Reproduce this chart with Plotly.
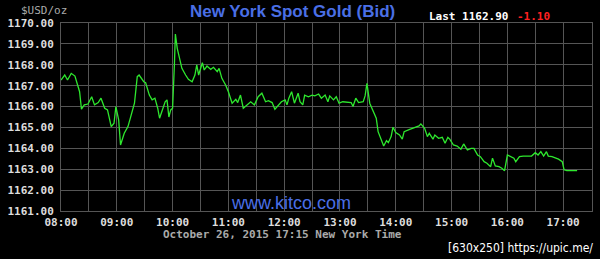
import plotly.graph_objects as go

minutes = [0, 4, 7, 11, 15, 17, 20, 22, 25, 29, 33, 36, 40, 43, 47, 50, 54, 57, 59, 62,
           64, 68, 72, 75, 79, 82, 84, 89, 91, 95, 98, 101, 104, 106, 109, 112, 114, 116, 118, 120,
           122, 123, 125, 128, 130, 134, 137, 141, 144, 146, 148, 152, 154, 157, 161, 164, 168, 170, 173, 177,
           180, 184, 188, 190, 193, 196, 200, 204, 208, 212, 216, 220, 223, 227, 230, 234, 237, 241, 243, 245,
           248, 251, 255, 257, 260, 262, 266, 270, 273, 277, 280, 284, 287, 289, 293, 296, 299, 303, 309, 312,
           314, 317, 320, 325, 327, 329, 332, 335, 339, 341, 344, 347, 350, 352, 355, 357, 360, 364, 367, 369,
           375, 380, 385, 387, 391, 394, 396, 400, 402, 406, 410, 413, 416, 418, 422, 426, 430, 433, 437, 441,
           444, 448, 451, 455, 458, 462, 464, 467, 471, 474, 477, 480, 483, 487, 489, 493, 497, 503, 506, 510,
           513, 516, 519, 522, 524, 528, 532, 535, 539, 541, 544, 549, 555]
prices = [1167.27, 1167.51, 1167.27, 1167.59, 1167.46, 1167.11, 1166.71, 1165.87, 1166.08, 1166.12,
          1166.47, 1166.08, 1166.19, 1166.40, 1165.92, 1165.84, 1165.04, 1165.20, 1166.00, 1165.36,
          1164.16, 1164.72, 1165.04, 1165.52, 1166.16, 1167.43, 1167.51, 1167.19, 1167.14, 1166.55,
          1166.32, 1166.40, 1165.92, 1165.44, 1165.84, 1166.23, 1166.32, 1165.50, 1165.84, 1165.92,
          1168.07, 1169.47, 1168.79, 1168.23, 1167.83, 1167.51, 1167.30, 1167.19, 1167.51, 1167.99,
          1167.51, 1168.10, 1167.75, 1167.94, 1167.78, 1167.88, 1167.67, 1167.83, 1167.35, 1167.03,
          1166.71, 1166.16, 1166.35, 1166.19, 1166.55, 1165.92, 1166.08, 1166.23, 1166.08, 1166.47,
          1166.64, 1166.23, 1166.28, 1166.19, 1165.87, 1166.08, 1166.23, 1166.32, 1166.08, 1166.40,
          1166.71, 1166.16, 1166.64, 1166.23, 1166.08, 1166.55, 1166.47, 1166.55, 1166.51, 1166.60,
          1166.40, 1166.55, 1166.23, 1166.51, 1166.32, 1166.47, 1166.16, 1166.23, 1166.20, 1166.19,
          1166.00, 1166.40, 1166.19, 1166.23, 1166.51, 1167.11, 1166.16, 1165.84, 1165.44, 1164.80,
          1164.48, 1164.11, 1164.37, 1164.27, 1164.56, 1165.01, 1164.76, 1164.64, 1164.44, 1164.80,
          1164.91, 1165.01, 1165.07, 1165.17, 1164.96, 1164.56, 1164.72, 1164.44, 1164.64, 1164.48,
          1164.53, 1164.24, 1164.53, 1164.44, 1164.16, 1164.11, 1163.96, 1164.21, 1163.92, 1164.00,
          1164.00, 1163.68, 1163.60, 1163.36, 1163.29, 1163.12, 1163.53, 1163.16, 1163.12, 1163.05,
          1162.93, 1163.68, 1163.60, 1163.53, 1163.36, 1163.60, 1163.63, 1163.63, 1163.63, 1163.79,
          1163.68, 1163.84, 1163.63, 1163.84, 1163.63, 1163.60, 1163.53, 1163.48, 1163.36, 1162.97,
          1162.93, 1162.93, 1162.93]

times = ["2015-10-26 %02d:%02d" % (8 + m // 60, m % 60) for m in minutes]

title_text = "New York Spot Gold (Bid)"
unit_text = "$USD/oz"
last_label = "Last 1162.90"
change_label = "-1.10"
site_text = "www.kitco.com"
date_text = "October 26, 2015 17:15 New York Time"
watermark = "[630x250] https://upic.me/"

W, H = 600, 259
ML, MR, MT, MB = 58, 7, 23, 48
grid = "#555555"
mono = "DejaVu Sans Mono"

fig = go.Figure()
fig.add_trace(go.Scatter(x=times, y=prices, mode="lines",
                         line=dict(color="#2ee82e", width=1.3), hoverinfo="skip"))

fig.update_layout(
    width=W, height=H,
    margin=dict(l=ML, r=MR, t=MT, b=MB),
    paper_bgcolor="black", plot_bgcolor="black",
    showlegend=False,
    xaxis=dict(
        type="date",
        range=["2015-10-26 08:00", "2015-10-26 17:31"],
        dtick=3600000, tick0="2015-10-26 08:00", tickformat="%H:%M",
        showgrid=True, gridcolor=grid, gridwidth=1,
        minor=dict(dtick=1800000, tick0="2015-10-26 08:00", showgrid=True, gridcolor=grid),
        showline=True, linecolor=grid, mirror=True, linewidth=1,
        ticks="", zeroline=False, ticklabelstandoff=1,
        tickfont=dict(family=mono, size=11, color="#dddddd", weight="bold"),
    ),
    yaxis=dict(
        range=[1161, 1170], dtick=1, tick0=1161, tickformat=".2f",
        showgrid=True, gridcolor=grid, gridwidth=1,
        showline=True, linecolor=grid, mirror=True, linewidth=1,
        ticks="", zeroline=False, ticklabelstandoff=4,
        tickfont=dict(family=mono, size=11, color="#dddddd", weight="bold"),
    ),
)

ann = [
    dict(text="<b>" + title_text + "</b>", x=291, y=12, font=dict(family="Liberation Sans", size=17, color="#4a6fe6")),
    dict(text=unit_text, x=41, y=10, font=dict(family=mono, size=11, color="#aaaaaa")),
    dict(text="<b>" + last_label + "</b>", x=469, y=16, font=dict(family=mono, size=11, color="#ffffff")),
    dict(text="<b>" + change_label + "</b>", x=534, y=16, font=dict(family=mono, size=11, color="#ff2020")),
    dict(text=site_text, x=290, y=203, font=dict(family="Liberation Sans", size=18, color="#4a6fe6")),
    dict(text="<b>" + date_text + "</b>", x=281, y=234, font=dict(family=mono, size=11, color="#aaaaaa")),
    dict(text=watermark, x=521, y=248, font=dict(family="DejaVu Sans Condensed", size=12, color="#ffffff")),
]
pw = W - ML - MR
ph = H - MT - MB
for a in ann:
    fig.add_annotation(text=a["text"], x=(a["x"] - ML) / pw, y=1 - (a["y"] - MT) / ph,
                       xref="paper", yref="paper", xanchor="center", yanchor="middle",
                       showarrow=False, font=a["font"])

fig.write_html("out.html")
